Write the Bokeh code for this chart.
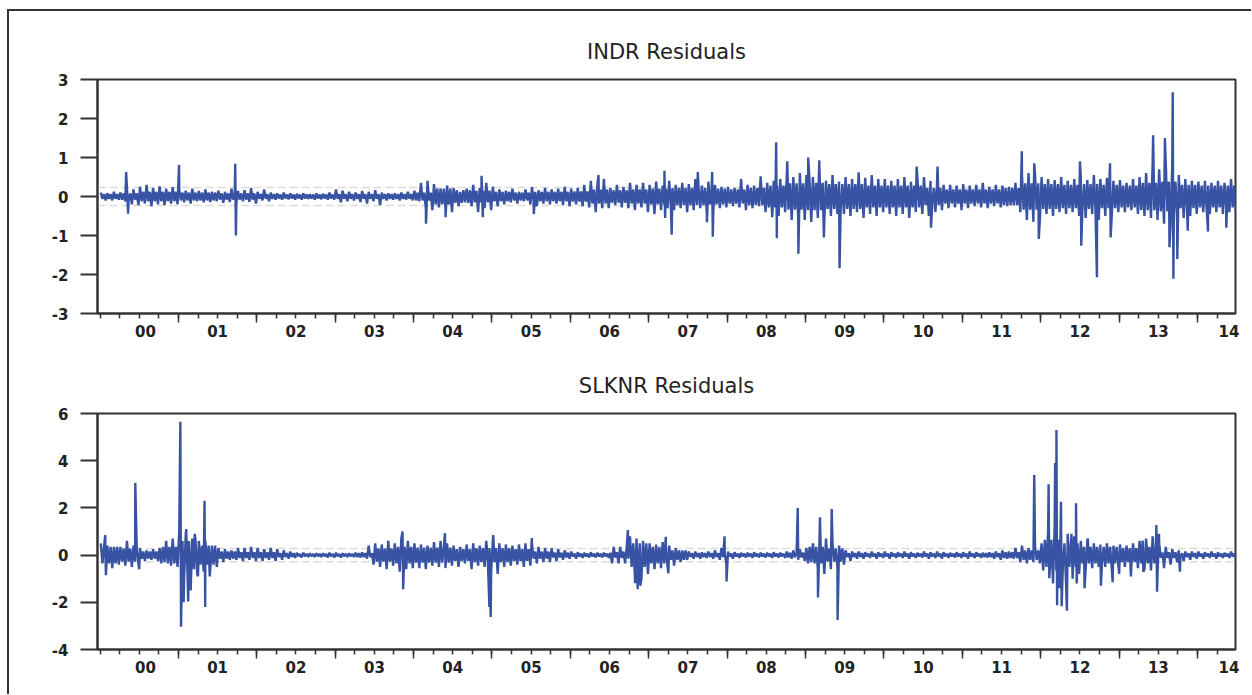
from bokeh.plotting import figure
from bokeh.models import FixedTicker, LinearAxis, Span, Range1d, CustomLabelingPolicy
from bokeh.layouts import column
from bokeh.embed import file_html
from bokeh.resources import INLINE

START_YEAR = 2000
LINE_COLOR = "#3953a4"

# x-axis labels (two-digit years) and where they sit (decimal years)
year_labels = ["00", "01", "02", "03", "04", "05", "06", "07", "08", "09", "10", "11", "12", "13", "14"]
year_label_pos = [2000.58, 2001.5, 2002.5, 2003.5, 2004.5, 2005.5, 2006.5, 2007.5,
                  2008.5, 2009.5, 2010.5, 2011.5, 2012.5, 2013.5, 2014.4]
year_ticks = [2001, 2002, 2003, 2004, 2005, 2006, 2007, 2008, 2009, 2010, 2011, 2012, 2013, 2014]
x_start, x_end = 1999.968, 2014.484

# ---------------- INDR residuals: monthly upper / lower swing (Jan 2000 .. Jun 2014)
indr_hi = [
    0.10, 0.08, 0.12, 0.10, 0.22, 0.18, 0.25, 0.30, 0.22, 0.26, 0.20, 0.24,
    0.18, 0.15, 0.20, 0.14, 0.18, 0.12, 0.15, 0.12, 0.20, 0.14, 0.16, 0.22,
    0.12, 0.18, 0.10, 0.08, 0.10, 0.08, 0.07, 0.08, 0.06, 0.08, 0.07, 0.10,
    0.18, 0.15, 0.12, 0.10, 0.14, 0.12, 0.16, 0.10, 0.08, 0.08, 0.10, 0.12,
    0.15, 0.35, 0.40, 0.32, 0.20, 0.28, 0.22, 0.12, 0.20, 0.30, 0.22, 0.35,
    0.25, 0.18, 0.15, 0.20, 0.12, 0.18, 0.24, 0.16, 0.22, 0.18, 0.20, 0.25,
    0.20, 0.22, 0.30, 0.40, 0.28, 0.45, 0.22, 0.30, 0.25, 0.35, 0.30, 0.35,
    0.30, 0.38, 0.28, 0.40, 0.30, 0.35, 0.32, 0.45, 0.28, 0.38, 0.30, 0.25,
    0.25, 0.22, 0.45, 0.30, 0.28, 0.52, 0.35, 0.40, 0.45, 0.55, 0.50, 0.60,
    0.55, 0.50, 0.65, 0.40, 0.55, 0.38, 0.50, 0.45, 0.62, 0.48, 0.55, 0.45,
    0.45, 0.40, 0.45, 0.50, 0.38, 0.45, 0.50, 0.40, 0.35, 0.30, 0.30, 0.28,
    0.32, 0.28, 0.30, 0.35, 0.25, 0.30, 0.28, 0.25, 0.35, 0.55, 0.60, 0.55,
    0.50, 0.45, 0.42, 0.50, 0.40, 0.45, 0.50, 0.42, 0.55, 0.45, 0.48, 0.40,
    0.42, 0.35, 0.45, 0.50, 0.60, 0.85, 0.70, 0.90, 0.80, 0.55, 0.45, 0.40,
    0.38, 0.40, 0.35, 0.40, 0.35, 0.45,
]
indr_lo = [
    -0.10, -0.10, -0.08, -0.12, -0.20, -0.22, -0.18, -0.25, -0.20, -0.22, -0.18, -0.20,
    -0.15, -0.18, -0.12, -0.15, -0.14, -0.12, -0.16, -0.14, -0.15, -0.12, -0.14, -0.18,
    -0.10, -0.12, -0.08, -0.08, -0.07, -0.08, -0.08, -0.06, -0.08, -0.07, -0.08, -0.08,
    -0.15, -0.12, -0.10, -0.14, -0.18, -0.12, -0.22, -0.10, -0.08, -0.10, -0.08, -0.10,
    -0.12, -0.30, -0.35, -0.28, -0.30, -0.40, -0.25, -0.15, -0.25, -0.40, -0.30, -0.35,
    -0.25, -0.20, -0.15, -0.18, -0.12, -0.20, -0.25, -0.18, -0.20, -0.18, -0.22, -0.25,
    -0.20, -0.25, -0.28, -0.40, -0.30, -0.30, -0.22, -0.28, -0.30, -0.35, -0.28, -0.40,
    -0.45, -0.35, -0.30, -0.35, -0.30, -0.40, -0.35, -0.30, -0.40, -0.38, -0.30, -0.28,
    -0.25, -0.28, -0.35, -0.30, -0.25, -0.40, -0.45, -0.50, -0.40, -0.60, -0.55, -0.60,
    -0.65, -0.55, -0.60, -0.50, -0.45, -0.45, -0.50, -0.40, -0.55, -0.45, -0.50, -0.40,
    -0.45, -0.50, -0.45, -0.55, -0.40, -0.45, -0.50, -0.40, -0.35, -0.30, -0.28, -0.35,
    -0.30, -0.25, -0.28, -0.30, -0.25, -0.28, -0.25, -0.22, -0.40, -0.60, -0.65, -0.55,
    -0.45, -0.50, -0.40, -0.45, -0.40, -0.50, -0.55, -0.45, -0.60, -0.50, -0.45, -0.40,
    -0.40, -0.35, -0.45, -0.50, -0.55, -0.60, -0.70, -0.75, -0.65, -0.55, -0.50, -0.45,
    -0.40, -0.45, -0.40, -0.45, -0.40, -0.45,
]
# typical (dense) swing of the INDR trace per quarter (2000Q1 .. 2014Q2)
indr_core = [0.06, 0.08, 0.12, 0.12, 0.10, 0.10, 0.08, 0.08, 0.06, 0.05, 0.05, 0.05,
             0.06, 0.06, 0.06, 0.06, 0.10, 0.20, 0.16, 0.15, 0.12, 0.10, 0.12, 0.12,
             0.13, 0.18, 0.16, 0.18, 0.20, 0.22, 0.22, 0.20, 0.18, 0.22, 0.28, 0.34,
             0.35, 0.32, 0.32, 0.28, 0.28, 0.28, 0.22, 0.18, 0.18, 0.18, 0.22, 0.34,
             0.32, 0.30, 0.32, 0.30, 0.28, 0.35, 0.38, 0.30, 0.28, 0.28]
# isolated spikes: month offset from Jan 2000, value
indr_spike_month = [4.0, 4.3, 12.1, 20.7, 20.8, 49.9, 52.9, 58.4, 58.6, 66.4, 76.3, 86.4, 86.5,
                    87.5, 91.5, 92.9, 93.7, 93.8, 102.9, 103.5, 103.6, 105.2, 106.9, 108.4, 110.1,
                    110.8, 113.2, 125.0, 127.2, 128.2, 141.1, 143.0, 143.7, 150.0, 150.2, 152.6,
                    154.6, 154.7, 161.2, 163.0, 163.7, 164.2, 164.3, 164.9, 166.5, 169.6, 172.4]
indr_spike_value = [0.63, -0.44, 0.81, 0.84, -1.00, -0.70, -0.53, 0.53, -0.53, -0.45, 0.55, 0.66, -0.55,
                    -0.98, 0.63, -0.66, 0.63, -1.03, -0.53, 1.39, -1.07, 0.90, -1.47, 1.00, 0.93,
                    -1.05, -1.84, 0.77, -0.80, 0.77, 1.16, 0.85, -1.09, 0.90, -1.26, -2.07,
                    0.85, -1.05, 1.57, 1.50, -1.30, 2.67, -2.11, -1.60, -0.88, -0.90, -0.80]
indr_band = 0.23
indr_yticks = [-3, -2, -1, 0, 1, 2, 3]
indr_ylabels = ["-3", "-2", "-1", "0", "1", "2", "3"]

# ---------------- SLKNR residuals
slknr_hi = [
    0.50, 0.40, 0.35, 0.35, 0.60, 0.40, 0.30, 0.20, 0.25, 0.30, 0.60, 0.70,
    1.00, 0.90, 0.70, 0.60, 0.60, 0.40, 0.30, 0.25, 0.20, 0.30, 0.30, 0.35,
    0.30, 0.25, 0.30, 0.25, 0.20, 0.15, 0.10, 0.10, 0.08, 0.08, 0.08, 0.10,
    0.10, 0.08, 0.08, 0.10, 0.12, 0.40, 0.50, 0.45, 0.60, 0.50, 0.70, 0.60,
    0.50, 0.45, 0.40, 0.55, 0.60, 0.50, 0.40, 0.35, 0.45, 0.50, 0.40, 0.60,
    0.60, 0.50, 0.45, 0.40, 0.45, 0.50, 0.45, 0.35, 0.30, 0.30, 0.25, 0.20,
    0.15, 0.12, 0.10, 0.12, 0.10, 0.10, 0.10, 0.12, 0.15, 0.80, 0.70, 0.60,
    0.50, 0.45, 0.55, 0.40, 0.30, 0.20, 0.15, 0.15, 0.12, 0.15, 0.20, 0.30,
    0.15, 0.12, 0.10, 0.10, 0.12, 0.10, 0.10, 0.12, 0.10, 0.15, 0.20, 0.25,
    0.30, 0.50, 0.60, 0.70, 0.50, 0.40, 0.20, 0.15, 0.15, 0.12, 0.15, 0.12,
    0.15, 0.12, 0.12, 0.15, 0.12, 0.10, 0.15, 0.12, 0.15, 0.12, 0.10, 0.12,
    0.12, 0.15, 0.12, 0.10, 0.12, 0.15, 0.20, 0.15, 0.30, 0.40, 0.30, 0.35,
    0.50, 1.00, 1.20, 1.00, 0.90, 0.80, 0.60, 0.60, 0.50, 0.45, 0.50, 0.40,
    0.45, 0.40, 0.50, 0.60, 0.70, 0.80, 0.50, 0.35, 0.25, 0.20, 0.15, 0.15,
    0.15, 0.12, 0.15, 0.12, 0.10, 0.15,
]
slknr_lo = [
    -0.50, -0.55, -0.40, -0.45, -0.50, -0.35, -0.25, -0.20, -0.25, -0.30, -0.45, -0.50,
    -1.00, -1.50, -0.80, -0.70, -0.60, -0.50, -0.30, -0.20, -0.20, -0.25, -0.20, -0.25,
    -0.25, -0.20, -0.25, -0.20, -0.15, -0.12, -0.10, -0.08, -0.08, -0.08, -0.10, -0.10,
    -0.10, -0.08, -0.08, -0.10, -0.15, -0.40, -0.50, -0.60, -0.45, -0.70, -0.60, -0.55,
    -0.55, -0.60, -0.45, -0.50, -0.55, -0.45, -0.50, -0.35, -0.60, -0.45, -0.50, -0.70,
    -0.80, -0.50, -0.45, -0.40, -0.50, -0.45, -0.35, -0.30, -0.30, -0.25, -0.20, -0.15,
    -0.15, -0.12, -0.10, -0.10, -0.10, -0.12, -0.10, -0.12, -0.15, -0.90, -1.00, -0.80,
    -0.60, -0.55, -0.50, -0.45, -0.30, -0.20, -0.15, -0.15, -0.12, -0.15, -0.20, -0.35,
    -0.15, -0.12, -0.10, -0.12, -0.10, -0.10, -0.12, -0.10, -0.12, -0.15, -0.20, -0.25,
    -0.30, -0.60, -0.80, -0.60, -0.50, -0.40, -0.25, -0.15, -0.15, -0.12, -0.15, -0.12,
    -0.15, -0.12, -0.12, -0.15, -0.12, -0.10, -0.15, -0.12, -0.15, -0.12, -0.10, -0.12,
    -0.15, -0.12, -0.12, -0.10, -0.15, -0.20, -0.15, -0.15, -0.30, -0.35, -0.30, -0.35,
    -0.50, -1.20, -1.40, -1.20, -1.00, -0.80, -0.60, -0.55, -0.50, -0.50, -0.60, -0.45,
    -0.50, -0.45, -0.55, -0.60, -0.65, -0.80, -0.55, -0.40, -0.30, -0.25, -0.20, -0.15,
    -0.15, -0.12, -0.15, -0.12, -0.12, -0.15,
]
slknr_core = [0.35, 0.28, 0.15, 0.35, 0.60, 0.40, 0.15, 0.12, 0.12, 0.08, 0.05, 0.05,
              0.05, 0.08, 0.28, 0.35, 0.32, 0.32, 0.25, 0.30, 0.30, 0.25, 0.15, 0.10,
              0.06, 0.06, 0.35, 0.50, 0.35, 0.20, 0.08, 0.08, 0.06, 0.06, 0.06, 0.10,
              0.35, 0.28, 0.08, 0.06, 0.06, 0.06, 0.06, 0.06, 0.06, 0.08, 0.12, 0.20,
              0.65, 0.50, 0.35, 0.35, 0.30, 0.35, 0.12, 0.08, 0.06, 0.06]
slknr_spike_month = [0.8, 0.9, 5.4, 6.0, 12.3, 12.4, 12.8, 13.2, 13.5, 14.5, 15.0, 16.0, 16.1, 16.8,
                     46.3, 46.4, 52.8, 59.6, 59.8, 60.2, 66.1, 80.8, 81.9, 82.3, 82.7, 86.6, 87.0,
                     95.6, 95.9, 106.8, 109.9, 110.2, 112.0, 112.9, 143.0, 145.2, 145.3, 146.2,
                     146.4, 146.5, 147.1, 147.2, 148.0, 148.7, 149.4, 149.5, 150.7, 151.2, 153.2,
                     155.0, 156.0, 157.8, 159.6, 159.7, 161.7, 161.8, 162.1, 165.3]
slknr_spike_value = [0.85, -0.85, 3.06, -0.60, 5.65, -3.04, -2.00, 1.10, -1.97, 0.90, -0.90, 2.30, -2.20, -0.90,
                     1.00, -1.45, 0.93, -2.20, -2.62, 0.85, 0.72, 1.06, -1.19, -1.45, -1.30, 0.78, -0.77,
                     0.80, -1.12, 2.00, -1.80, 1.60, 1.95, -2.75, 3.39, 3.00, -0.98, 3.90,
                     5.30, -2.12, 2.26, -2.17, -2.36, 0.90, 2.20, -1.20, -1.40, 0.70, -1.30,
                     -1.15, -0.80, -0.90, 0.62, -0.70, 1.27, -1.55, 0.90, -0.70]
slknr_band = 0.28
slknr_yticks = [-4, -2, 0, 2, 4, 6]
slknr_ylabels = ["-4", "-2", "0", "2", "4", "6"]


def build_series(hi, lo, core, spike_m, spike_v):
    """Trace through the read values: each month swings to its high, through the
    quarter's typical swing, and down to its low; spikes are inserted in time order."""
    pts = []
    for i, (h, l) in enumerate(zip(hi, lo)):
        t = START_YEAR + (i + 0.5) / 12.0
        c = core[i // 3]
        pts.append((t - 3.0 / 96.0, h))
        pts.append((t - 1.0 / 96.0, -c))
        pts.append((t + 1.0 / 96.0, c))
        pts.append((t + 3.0 / 96.0, l))
    for m, v in zip(spike_m, spike_v):
        pts.append((START_YEAR + m / 12.0, v))
    pts.sort(key=lambda p: p[0])
    return [p[0] for p in pts], [p[1] for p in pts]


quarter_ticks = [y + q / 4.0 for y in range(2000, 2015) for q in range(4)
                 if x_start < y + q / 4.0 < x_end]

FONT = "DejaVu Sans"
INK = "#222222"
AXIS_INK = "#333333"

hide_all_labels = CustomLabelingPolicy(code="""
for (const i of Array.from(indices)) { indices.unset(i) }
return indices
""")


def make_panel(title, hi, lo, core, sm, sv, yr, yticks, ylabels, band, height, top, frame_h):
    bottom = height - top - frame_h
    p = figure(width=1242, height=height, x_range=Range1d(x_start, x_end), y_range=Range1d(*yr),
               output_backend="svg", toolbar_location=None, title=title,
               min_border_left=88, min_border_right=16, min_border_top=top,
               min_border_bottom=bottom)
    p.title.align = "center"
    p.title.text_font = FONT
    p.title.text_font_size = "21px"
    p.title.text_font_style = "normal"
    p.title.text_color = INK
    p.title.standoff = 32
    p.xgrid.grid_line_color = None
    p.ygrid.grid_line_color = None
    p.outline_line_color = AXIS_INK
    p.outline_line_width = 2
    p.outline_line_alpha = 1
    p.background_fill_color = "white"
    p.border_fill_color = "white"

    for loc in (band, -band):
        p.add_layout(Span(location=loc, dimension="width", line_color="#dadada",
                          line_width=1.5, line_dash="8 4", level="underlay"))

    xs, ys = build_series(hi, lo, core, sm, sv)
    p.line(xs, ys, line_color=LINE_COLOR, line_width=2.4)

    # y axis
    ya = p.yaxis[0]
    ya.ticker = FixedTicker(ticks=yticks)
    ya.major_label_overrides = {t: s for t, s in zip(yticks, ylabels)}
    ya.major_tick_out = 17
    ya.major_tick_in = 0
    ya.minor_tick_line_color = None
    ya.major_tick_line_color = AXIS_INK
    ya.major_tick_line_width = 2
    ya.axis_line_color = AXIS_INK
    ya.axis_line_width = 2
    ya.major_label_standoff = 12
    ya.major_label_text_font = FONT
    ya.major_label_text_font_size = "15px"
    ya.major_label_text_font_style = "bold"
    ya.major_label_text_color = INK

    # x axis: year / quarter tick marks, labels suppressed
    xa = p.xaxis[0]
    xa.ticker = FixedTicker(ticks=year_ticks, minor_ticks=quarter_ticks)
    xa.major_tick_out = 9
    xa.major_tick_in = 0
    xa.minor_tick_out = 5
    xa.minor_tick_in = 0
    xa.major_tick_line_color = AXIS_INK
    xa.minor_tick_line_color = AXIS_INK
    xa.major_tick_line_width = 1.5
    xa.minor_tick_line_width = 1.5
    xa.axis_line_color = AXIS_INK
    xa.axis_line_width = 2
    xa.major_label_policy = hide_all_labels
    xa.major_label_text_font_size = "1px"
    xa.major_label_standoff = 0

    # x labels axis: two-digit years centred in each year
    la = LinearAxis(ticker=FixedTicker(ticks=year_label_pos),
                    major_label_overrides={t: s for t, s in zip(year_label_pos, year_labels)})
    la.axis_line_color = None
    la.major_tick_line_color = None
    la.minor_tick_line_color = None
    la.major_tick_out = 0
    la.major_tick_in = 0
    la.major_label_standoff = -2
    la.major_label_text_font = FONT
    la.major_label_text_font_size = "15px"
    la.major_label_text_font_style = "bold"
    la.major_label_text_color = INK
    p.add_layout(la, "below")
    return p


p1 = make_panel("INDR Residuals", indr_hi, indr_lo, indr_core, indr_spike_month, indr_spike_value,
                (-3, 3), indr_yticks, indr_ylabels, indr_band, 334, 68, 234)
p2 = make_panel("SLKNR Residuals", slknr_hi, slknr_lo, slknr_core, slknr_spike_month, slknr_spike_value,
                (-4, 6), slknr_yticks, slknr_ylabels, slknr_band, 349, 68, 236)

layout = column(p1, p2, margin=(9, 0, 0, 7),
                styles={"border-top": "2px solid #333333", "border-left": "2px solid #333333"})

open("out.html", "w").write(file_html(layout, INLINE))
